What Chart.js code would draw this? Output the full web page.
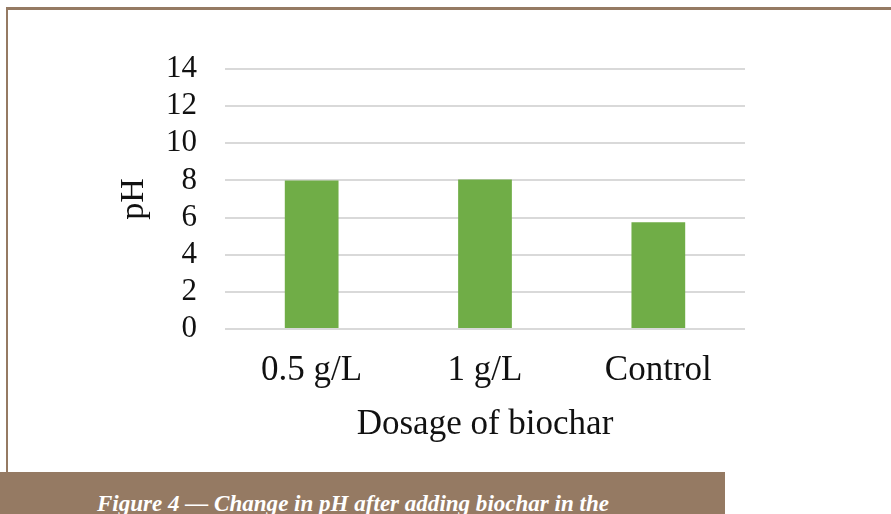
<!DOCTYPE html>
<html>
<head>
<meta charset="utf-8">
<script src="https://cdn.jsdelivr.net/npm/chart.js@4/dist/chart.umd.min.js"></script>
<style>
  html, body { margin: 0; padding: 0; background: #ffffff; width: 891px; height: 514px; overflow: hidden; }
  #wrap { position: absolute; left: 0; top: 0; width: 891px; height: 514px; }
  #topline { position: absolute; left: 6px; top: 7px; width: 885px; height: 3px; background: #957a63; }
  #leftline { position: absolute; left: 6px; top: 7px; width: 2px; height: 465px; background: #957a63; }
  #banner { position: absolute; left: 0; top: 472px; width: 725px; height: 42px; background: #957a63; overflow: hidden; }
  #banner span { position: absolute; left: 97px; top: 19px; white-space: nowrap; color: #ffffff; line-height: 24px;
    font-family: "Liberation Serif", serif; font-style: italic; font-weight: bold; font-size: 24px;
    transform-origin: left top; }
</style>
</head>
<body>
<div id="wrap">
  <canvas id="c" width="891" height="514"></canvas>
  <div id="topline"></div>
  <div id="leftline"></div>
  <div id="banner"><span id="cap">Figure 4 — Change in pH after adding biochar in the</span></div>
</div>
<script>
const categories = ["0.5 g/L", "1 g/L", "Control"];
const phValues = [8.0, 8.05, 5.75];
const yTicks = [0, 2, 4, 6, 8, 10, 12, 14];
const xTitle = "Dosage of biochar";
const yTitle = "pH";

// fit caption width
const cap = document.getElementById('cap');
const w = cap.getBoundingClientRect().width;
cap.style.transform = 'scaleX(' + (512 / w) + ')';

const serif = '"Liberation Serif", "Times New Roman", serif';
new Chart(document.getElementById('c'), {
  type: 'bar',
  data: {
    labels: categories,
    datasets: [{
      data: phValues,
      backgroundColor: '#70ad47',
      borderWidth: 0,
      categoryPercentage: 1.0,
      barPercentage: 0.31
    }]
  },
  options: {
    responsive: false,
    animation: false,
    maintainAspectRatio: false,
    layout: { padding: { left: 0, top: 69, right: 146, bottom: 67 } },
    plugins: { legend: { display: false }, tooltip: { enabled: false } },
    scales: {
      y: {
        min: 0, max: 14,
        afterBuildTicks: (axis) => { axis.ticks = yTicks.map(v => ({ value: v })); },
        afterFit: (axis) => { axis.width = 225; },
        border: { display: false },
        grid: { color: '#d9d9d9', lineWidth: 2, drawTicks: false },
        ticks: { color: '#111111', padding: 28, autoSkip: false, font: { family: serif, size: 31 } },
        title: { display: true, text: yTitle, color: '#111111', padding: { top: 114, bottom: 0 },
                 font: { family: serif, size: 34 } }
      },
      x: {
        afterFit: (axis) => { axis.height = 118; },
        border: { display: false },
        grid: { display: false, drawTicks: false },
        ticks: { color: '#111111', padding: 21, autoSkip: false, maxRotation: 0, font: { family: serif, size: 35 } },
        title: { display: true, text: xTitle, color: '#111111', padding: { top: 0, bottom: 1 },
                 font: { family: serif, size: 35 } }
      }
    }
  }
});
</script>
</body>
</html>
